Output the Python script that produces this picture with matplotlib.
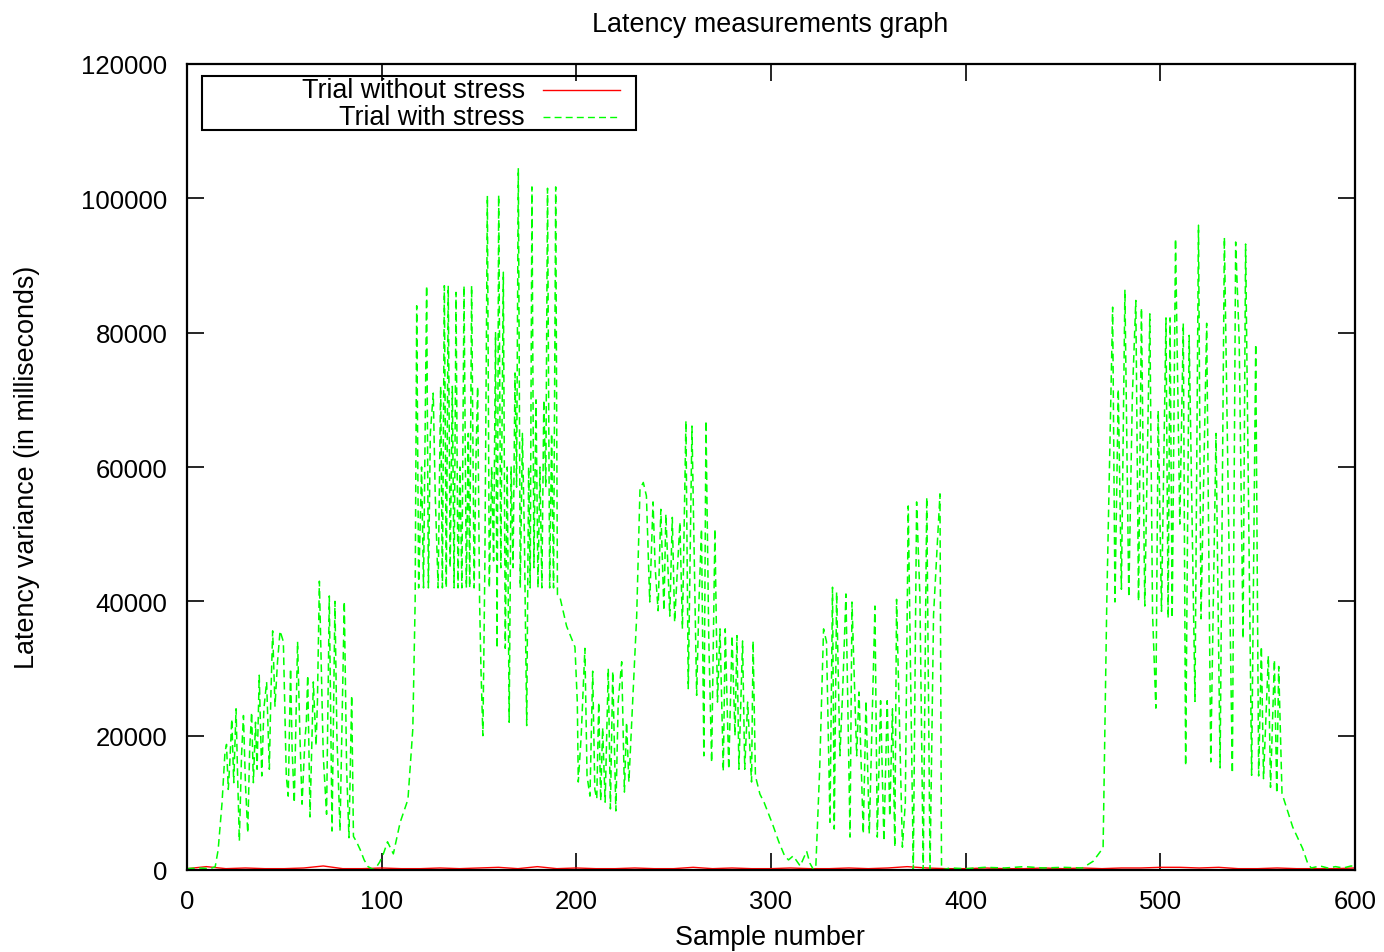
import matplotlib
matplotlib.use("Agg")
import numpy as np
from matplotlib import pyplot as plt
from matplotlib.patches import Rectangle
from matplotlib.lines import Line2D

plt.rcParams['font.family'] = ['Liberation Sans', 'DejaVu Sans']

# stress trial (sample, latency in thousands of ms)
stress_samples = [
    0, 6, 12, 14.5, 16, 18, 19.5, 20.3, 21.2, 22, 23, 24, 25.2, 26, 26.9, 28, 29, 30,
    31.2, 32.2, 33.2, 34.1, 35.2, 36, 37.1, 38.4, 39.5, 40.9, 42.3, 43, 44, 45.2, 46.5,
    47.8, 49.5, 51, 52, 53.2, 54, 55.1, 56.8, 58, 59.1, 60.6, 61.3, 62, 63.2, 64.9, 66.3,
    67, 68, 69, 70, 71.7, 73.1, 74.5, 76, 77, 78.6, 80.8, 82, 83.2, 84.6, 85.5, 87.1, 89,
    91, 93, 95.5, 97, 99, 101, 103, 106, 109.5, 113.5, 116, 117.2,
    118, 119, 120.5, 121.5, 123.1, 124, 125, 126.5, 127.5, 129, 130.3, 131.2, 132.2,
    133.2, 134.2, 135.2, 136.3, 137.2, 138.2, 139.2, 140.2, 141.2, 142.3, 143.5, 144.5,
    145.2, 146.2, 147.5, 148.5, 149.3, 150.3, 151, 152, 153, 154.3, 155.3, 156.5, 157.5,
    158.5, 159.3, 160.1, 161.2, 162.5, 163.5, 164.5, 165.5, 166.5, 167.5, 168.5, 169.3,
    170.2, 171.2, 172.3, 173.3, 174.5, 175.5, 176.3, 177.2, 178.2, 179.3, 180.3, 181.3,
    182.3, 183.3, 184.3, 185.2, 186.3, 187.3, 188.3, 189.4, 190.3,
    191.6, 195, 199.3, 200.5, 201, 202.5, 204.4, 205.5, 207, 208.4, 209.5, 210.5, 211.5,
    212.5, 213.5, 214.8, 216.4, 217.5, 218.7, 220.3, 221.5, 223.3, 224.7, 225.8, 227,
    231, 232.7, 234.4, 236, 237.7, 239.4, 240.5, 242, 243.4, 245, 246, 248, 249.3, 250.5,
    253.2, 254.5, 256.3, 257.5, 259.4, 261.8, 263, 264.3, 265.5, 266.6, 268, 269.5,
    271.2, 272.5, 273.8, 275.5, 276.5, 278.3, 280, 281.5, 282.5, 283.5, 285.4, 286.5,
    288, 290, 290.8, 292,
    294.3, 296.4, 300.7, 304, 307, 309, 311.4, 315, 318.3, 320, 321.7, 323,
    325, 327, 328.5, 330.3, 331.6, 332.5, 333.7, 335.4, 336.8, 338.5, 340.6, 341.6, 344,
    345.2, 347.4, 348.8, 350.5, 353.4, 354.6, 356.3, 358, 359.7, 361, 362.4, 363.6,
    364.5, 367.5, 369, 370.5, 373.1, 374.8, 376.5, 378.2, 380, 381.7, 383.5, 386.8,
    387.6, 389,
    392, 400, 410, 420, 430, 440, 450, 460, 465.5, 470.6,
    472.5, 475.5, 476.7, 478.4, 480, 481.8, 483.8, 485.6, 487.4, 488.8, 490.3, 492,
    494.6, 496, 497.7, 498.9, 500.6, 502.9, 504, 505, 506.1, 507.8, 510, 511.8, 513,
    514.8, 517.8, 519.6, 520.9, 523.8, 525.9, 528.6, 530.7, 532.9, 537, 538.7, 540.5,
    542.5, 543.8, 546.9, 549, 550.5, 551.9, 553, 555.5, 556.6, 558.6, 559.8, 560.8,
    562.5, 568, 573.1, 575.7, 577.5, 582, 586, 590, 594, 598, 600,
]
stress_values = [
    0.2, 0.3, 0.2, 0.5, 3, 10, 17.5, 18.7, 12, 16, 22.5, 13, 24, 14, 4.3, 17, 23, 13,
    5.5, 18, 23.5, 13, 22, 15, 29, 14, 24, 28, 15, 25, 35.6, 24.4, 31,
    35.6, 34, 14, 11, 30, 18, 10, 34, 20, 9.8, 19.5, 22, 29, 7.9, 28, 18.5,
    25, 43, 30, 17, 8.3, 40.8, 5.8, 40, 20, 5.8, 40, 15, 4.8, 26, 5, 4.2, 3,
    1.5, 0.5, 0.1, 0.3, 1.2, 2.5, 4.2, 2.4, 7.1, 10.5, 21, 40,
    84, 42, 60, 42, 87, 42, 65, 71, 56, 42, 72, 42, 87,
    42, 87, 45, 72, 42, 86, 42, 60, 42, 87, 42, 65,
    42, 87, 42, 62, 72, 40, 30, 20, 45, 100.4, 42, 60, 46,
    80, 33, 100.5, 45, 89, 33, 60, 22, 60, 45, 74, 57,
    104.5, 42, 65, 50, 21.5, 60, 42, 101.7, 45, 70, 42, 60,
    42, 70, 57, 101.5, 42, 65, 42, 101.7, 41,
    40.6, 36.3, 33.2, 25, 13.1, 20, 33, 14, 11, 29.6, 12, 10.6, 25,
    10.3, 21.2, 10.1, 30, 9.1, 29.6, 8.8, 25, 31, 11.6, 22, 13.1,
    37.8, 56.7, 57.7, 55.7, 39.9, 54.8, 45, 38.6, 53.7, 38.6, 53, 37.8, 52.5, 36.9,
    51.8, 35.9, 66.9, 27, 66.1, 26, 40, 50.8, 17, 66.9, 35, 16,
    50.8, 25, 35.9, 14.7, 35.9, 15, 34.9, 20, 34.9, 15, 34.1, 15,
    25, 13.1, 34.1, 14,
    11.3, 10.1, 6.9, 4.2, 2.1, 1.5, 2.1, 0.6, 2.8, 1, 0.1, 0.3,
    15, 35.9, 34, 7.1, 42.1, 6.1, 41.4, 17, 26.5, 41.1, 4.9, 39.9, 17,
    26.5, 5.4, 25.2, 5.4, 39.3, 4.9, 25.2, 4.3, 25.2, 8, 24, 3.4,
    40.3, 3.4, 10, 54.2, 0, 54.8, 40.6, 0, 55.5, 0, 38, 56,
    0, 0.1,
    0.3, 0.2, 0.4, 0.3, 0.5, 0.3, 0.4, 0.3, 1.3, 3.3,
    40, 83.8, 39.9, 71.6, 41.8, 86.4, 40.6, 70.3, 84.8, 40, 83.7, 39.3,
    82.8, 38.2, 24.1, 68.4, 38.5, 82.2, 37.5, 82.2, 37.5, 94, 51.5, 81.4, 15.5,
    79.6, 25.1, 96, 37.4, 81.4, 16.1, 65, 15.2, 94.2, 14.4, 93.5, 78.9,
    34.4, 93.2, 14.1, 78.3, 14, 33.3, 13.6, 31.9, 12.3, 31.3, 11.4, 30.3,
    11.4, 6.4, 3.2, 1, 0.3, 0.6, 0.3, 0.5, 0.3, 0.6, 0.5,
]

# trial without stress, stays close to zero (every 10 samples, thousands of ms)
calm_samples = np.arange(0, 601, 10)
calm_values = [
    0.2, 0.5, 0.2, 0.3, 0.2, 0.2, 0.3, 0.6, 0.2, 0.2, 0.3, 0.2, 0.2, 0.3, 0.2, 0.3,
    0.4, 0.2, 0.5, 0.2, 0.3, 0.2, 0.2, 0.3, 0.2, 0.2, 0.4, 0.2, 0.3, 0.2, 0.2, 0.3,
    0.2, 0.2, 0.3, 0.2, 0.3, 0.5, 0.3, 0.2, 0.2, 0.3, 0.2, 0.2, 0.3, 0.2, 0.3, 0.2,
    0.3, 0.3, 0.4, 0.4, 0.3, 0.4, 0.2, 0.2, 0.3, 0.2, 0.2, 0.2, 0.3,
]

x_ticks = [0, 100, 200, 300, 400, 500, 600]
y_ticks = [0, 20000, 40000, 60000, 80000, 100000, 120000]
labels = ["Trial without stress", "Trial with stress"]
colors = ["#ff0000", "#00ff00"]

fig = plt.figure(figsize=(13.84, 9.53), dpi=100)
ax = fig.add_axes([187 / 1384, 1 - 871 / 953, 1168 / 1384, 806 / 953])

ax.plot(calm_samples, np.array(calm_values) * 1000, color=colors[0], lw=1)
ax.plot(stress_samples, np.array(stress_values) * 1000, color=colors[1], lw=1.1,
        dashes=(5, 3))

ax.set_xlim(0, 600)
ax.set_ylim(0, 120000)
ax.set_xticks(x_ticks)
ax.set_yticks(y_ticks)
ax.tick_params(direction="in", length=12, width=1.2, top=True, right=True,
               labelsize=18.5, pad=14, colors="black")
for s in ax.spines.values():
    s.set_linewidth(1.6)

# gnuplot-like key box
ax.add_patch(Rectangle((0.0128, 0.9181), 0.3716, 0.067, transform=ax.transAxes,
                       fill=False, edgecolor="black", lw=1.5, zorder=5))
for i, lab in enumerate(labels):
    yy = 0.9677 - i * 0.0335
    ax.text(0.2894, yy, lab, transform=ax.transAxes, ha="right", va="center",
            fontsize=19.4, zorder=6)
    ln = Line2D([0.3048, 0.3707], [yy, yy], transform=ax.transAxes,
                color=colors[i], lw=1, zorder=6)
    if i == 1:
        ln.set_dashes((5, 3))
    ax.add_line(ln)

fig.text(770 / 1384, 1 - 25 / 953, "Latency measurements graph", ha="center",
         va="center", fontsize=19.4)
fig.text(770 / 1384, 1 - 938 / 953, "Sample number", ha="center", va="center",
         fontsize=19.4)
fig.text(27 / 1384, 1 - 467 / 953, "Latency variance (in milliseconds)",
         ha="center", va="center", rotation=90, fontsize=19.4)

fig.savefig("out.png", dpi=100)
